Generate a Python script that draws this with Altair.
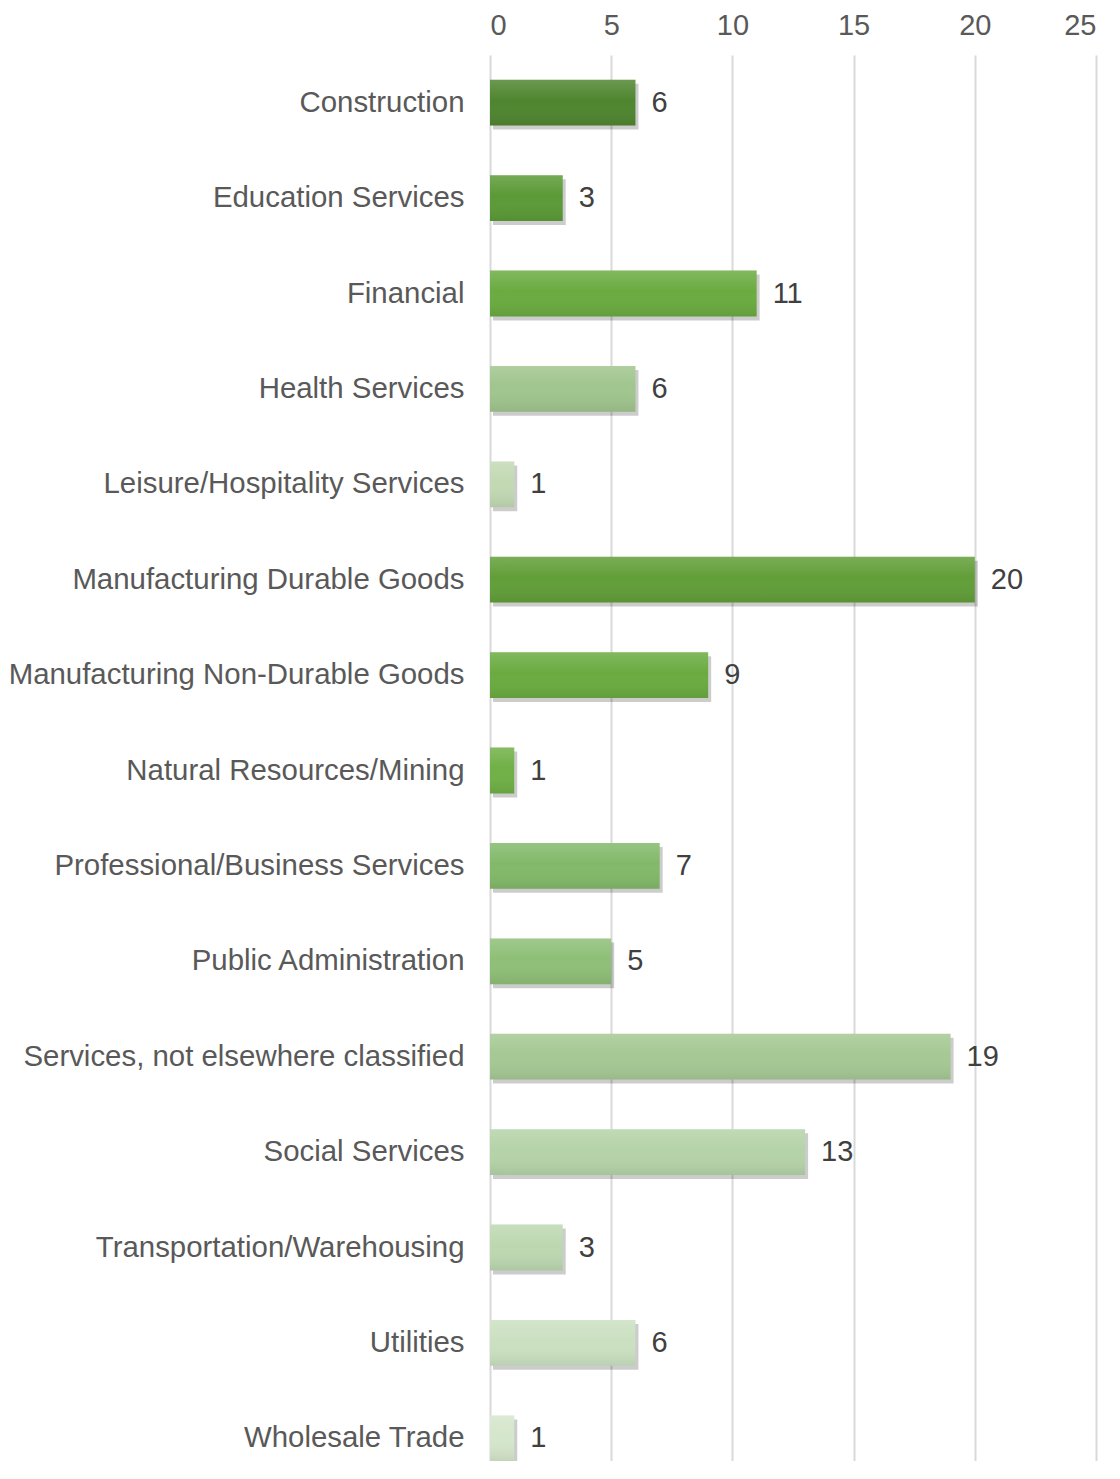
import altair as alt
import pandas as pd

categories = [
    "Construction", "Education Services", "Financial", "Health Services",
    "Leisure/Hospitality Services", "Manufacturing Durable Goods",
    "Manufacturing Non-Durable Goods", "Natural Resources/Mining",
    "Professional/Business Services", "Public Administration",
    "Services, not elsewhere classified", "Social Services",
    "Transportation/Warehousing", "Utilities", "Wholesale Trade",
]
values = [6, 3, 11, 6, 1, 20, 9, 1, 7, 5, 19, 13, 3, 6, 1]
colors = [
    "#4f852f", "#5b9a37", "#6aab40", "#a0c58d", "#c2d9b4", "#619e38",
    "#6aab40", "#70b046", "#82b969", "#8ebf77", "#a5c894", "#b5d3a8",
    "#bdd8b1", "#cbe0c1", "#d4e6cb",
]
x_ticks = [0, 5, 10, 15, 20, 25]

df = pd.DataFrame({"cat": categories, "val": values, "col": colors})

FS = 29

y_enc = alt.Y(
    "cat:N", sort=categories, title=None,
    scale=alt.Scale(paddingInner=0.52, paddingOuter=0.26, range=[0, 1431]),
    axis=alt.Axis(labelFont="Liberation Sans", labelFontSize=29.4, labelColor="#595959",
                  labelPadding=26, ticks=False, domain=False, grid=False, labelLimit=700),
)
x_enc = alt.X(
    "val:Q", title=None,
    scale=alt.Scale(domain=[0, 25], nice=False),
    axis=alt.Axis(orient="top", values=x_ticks, labelFont="Liberation Sans", labelFontSize=FS,
                  labelColor="#595959", labelPadding=15, ticks=False, domain=False,
                  grid=True, gridColor="#d9d9d9", gridWidth=2),
)

base = alt.Chart(df)

shadow = base.mark_bar(color="#000000", opacity=0.2, xOffset=3, yOffset=4).encode(
    x=x_enc, y=y_enc
)
bars = base.mark_bar(opacity=1).encode(
    x=x_enc, y=y_enc,
    color=alt.Color("col:N", scale=None, legend=None),
)
overlay = base.mark_bar(
    color=alt.Gradient(
        gradient="linear", x1=0, x2=0, y1=0, y2=1,
        stops=[alt.GradientStop(color="rgba(255,255,255,0.16)", offset=0),
               alt.GradientStop(color="rgba(255,255,255,0.0)", offset=0.45),
               alt.GradientStop(color="rgba(0,0,0,0.08)", offset=1)],
    )
).encode(x=x_enc, y=y_enc)
labels = base.mark_text(
    align="left", baseline="middle", dx=16, font="Liberation Sans", fontSize=FS, color="#404040"
).encode(x=x_enc, y=y_enc, text="val:Q")

chart = (
    alt.layer(shadow, bars, overlay, labels)
    .properties(
        width=606, height=1406,
        autosize=alt.AutoSizeParams(type="none"),
        padding={"left": 482, "top": 47, "right": 16, "bottom": 0},
    )
    .configure_view(stroke=None)
)

chart.save("out.html", embed_options={"renderer": "svg", "actions": False})
